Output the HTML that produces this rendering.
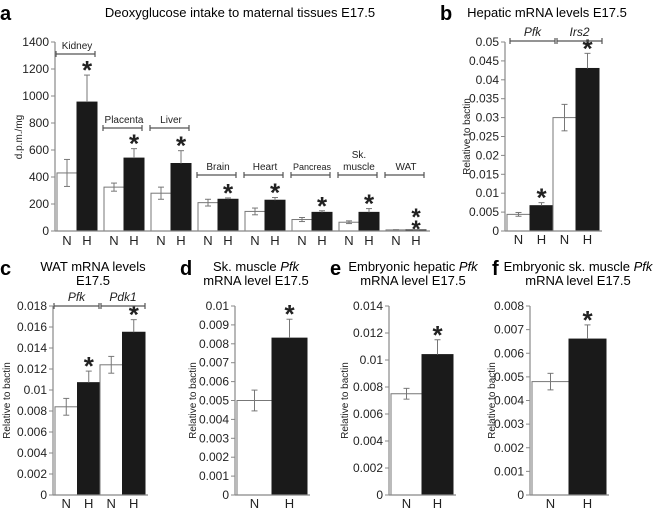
<!DOCTYPE html>
<html><head><meta charset="utf-8"><style>
html,body{margin:0;padding:0;background:#fff}
svg{display:block;font-family:"Liberation Sans",Arial,sans-serif}
</style></head><body>
<svg id="fig" width="660" height="509" viewBox="0 0 660 509">
<text x="0" y="20" font-size="20" font-weight="bold">a</text>
<text x="240" y="17" font-size="13" text-anchor="middle">Deoxyglucose intake to maternal tissues E17.5</text>
<text x="440" y="20" font-size="20" font-weight="bold">b</text>
<text x="547" y="17" font-size="13" text-anchor="middle">Hepatic mRNA levels E17.5</text>
<text x="0" y="275" font-size="20" font-weight="bold">c</text>
<text x="93" y="271" font-size="13" text-anchor="middle">WAT mRNA levels</text>
<text x="93" y="285" font-size="13" text-anchor="middle">E17.5</text>
<text x="180" y="275" font-size="20" font-weight="bold">d</text>
<text x="256" y="271" font-size="13" text-anchor="middle">Sk. muscle <tspan font-style="italic">Pfk</tspan></text>
<text x="256" y="285" font-size="13" text-anchor="middle">mRNA level E17.5</text>
<text x="330" y="275" font-size="20" font-weight="bold">e</text>
<text x="413" y="271" font-size="13" text-anchor="middle">Embryonic hepatic <tspan font-style="italic">Pfk</tspan></text>
<text x="413" y="285" font-size="13" text-anchor="middle">mRNA level E17.5</text>
<text x="492" y="275" font-size="20" font-weight="bold">f</text>
<text x="578" y="271" font-size="13" text-anchor="middle">Embryonic sk. muscle <tspan font-style="italic">Pfk</tspan></text>
<text x="578" y="285" font-size="13" text-anchor="middle">mRNA level E17.5</text>
</svg>
<script>
// Panel a data
const aTissues = ["Kidney","Placenta","Liver","Brain","Heart","Pancreas","Sk. muscle","WAT"];
const aNormal = [430,325,280,210,145,85,65,8];
const aNormalErr = [100,30,45,25,25,15,10,2];
const aHypoxia = [955,540,500,235,228,138,138,8];
const aHypoxiaErr = [200,70,95,10,20,12,28,2];
const aTicks = [0,200,400,600,800,1000,1200,1400];
// Panel b
const bValues = [0.0044,0.0067,0.030,0.043];
const bErr = [0.0005,0.0008,0.0035,0.004];
const bTicks = [0,0.005,0.01,0.015,0.02,0.025,0.03,0.035,0.04,0.045,0.05];
const bTickLabels = ["0","0.005","0.01","0.015","0.02","0.025","0.03","0.035","0.04","0.045","0.05"];
// Panel c
const cValues = [0.0084,0.0107,0.0124,0.0155];
const cErr = [0.0008,0.0011,0.0008,0.0012];
const cTicks = [0,0.002,0.004,0.006,0.008,0.01,0.012,0.014,0.016,0.018];
const cTickLabels = ["0","0.002","0.004","0.006","0.008","0.01","0.012","0.014","0.016","0.018"];
// Panel d
const dValues = [0.005,0.0083];
const dErr = [0.00055,0.001];
const dTicks = [0,0.001,0.002,0.003,0.004,0.005,0.006,0.007,0.008,0.009,0.01];
const dTickLabels = ["0","0.001","0.002","0.003","0.004","0.005","0.006","0.007","0.008","0.009","0.01"];
// Panel e
const eValues = [0.0075,0.0104];
const eErr = [0.0004,0.0011];
const eTicks = [0,0.002,0.004,0.006,0.008,0.01,0.012,0.014];
const eTickLabels = ["0","0.002","0.004","0.006","0.008","0.01","0.012","0.014"];
// Panel f
const fValues = [0.0048,0.0066];
const fErr = [0.00035,0.0006];
const fTicks = [0,0.001,0.002,0.003,0.004,0.005,0.006,0.007,0.008];
const fTickLabels = ["0","0.001","0.002","0.003","0.004","0.005","0.006","0.007","0.008"];
const groupLabels = ["N","H","N","H"];

const svg = document.getElementById('fig');
const NS = 'http://www.w3.org/2000/svg';
function mk(tag, attrs, name){
  const e = document.createElementNS(NS, tag);
  for (const k in attrs) e.setAttribute(k, attrs[k]);
  
  
  svg.appendChild(e);
  return e;
}
function txt(x,y,s,size,anchor,name,extra){
  const t = mk('text', Object.assign({x:x,y:y,'font-size':size,'text-anchor':anchor||'middle',fill:'#222'}, extra||{}), name);
  t.textContent = s;
  return t;
}
function star(cx, ye){
  txt(cx, ye+4, '*', 26, 'middle', 'significance-star', {'font-weight':'bold'});
}
function panel(p){
  const yS = v => p.y0 - (v / p.max) * (p.y0 - p.yTop);
  p.ticks.forEach((t,i)=>{
    const y = yS(t);
    mk('line',{x1:p.ax-4,x2:p.ax,y1:y,y2:y,stroke:'#888','stroke-width':1},'y-tick');
    txt(p.ax-6,y+4,p.labels[i],12,'end','y-tick-label');
  });
  mk('line',{x1:p.ax,x2:p.ax,y1:p.yTop,y2:p.y0,stroke:'#888','stroke-width':1.2},'y-axis');
  const lab = txt(0,0,p.ylab,10,'middle','y-axis-title');
  lab.setAttribute('transform','translate('+p.ylabX+','+((p.yTop+p.y0)/2)+') rotate(-90)');
  p.vals.forEach((v,i)=>{
    const x = p.bx + i*p.bw;
    const filled = i%2===1;
    const top = yS(v);
    mk('rect',{x:x,y:top,width:p.bw,height:p.y0-top,fill:filled?'#1a1a1a':'#fff',stroke:filled?'#1a1a1a':'#777','stroke-width':1},filled?'bar-h':'bar-n');
    const cx = x + p.bw/2, ye = yS(v + p.err[i]);
    mk('line',{x1:cx,x2:cx,y1:top,y2:ye,stroke:'#777','stroke-width':1},'error-bar');
    mk('line',{x1:cx-3,x2:cx+3,y1:ye,y2:ye,stroke:'#777','stroke-width':1},'error-cap');
    if(!filled){
      const yl = yS(v - p.err[i]);
      mk('line',{x1:cx,x2:cx,y1:top,y2:yl,stroke:'#777','stroke-width':1},'error-bar');
      mk('line',{x1:cx-3,x2:cx+3,y1:yl,y2:yl,stroke:'#777','stroke-width':1},'error-cap');
    }
    if(filled && p.star[Math.floor(i/2)]) star(cx, ye);
    txt(cx,p.y0+13,groupLabels[i],13,'middle','x-tick-label');
  });
  mk('line',{x1:p.ax,x2:p.bx+p.vals.length*p.bw+3,y1:p.y0,y2:p.y0,stroke:'#888','stroke-width':1.2},'x-axis');
}
function bracket(x1,x2,y,label,name,italic){
  mk('line',{x1:x1,x2:x2,y1:y,y2:y,stroke:'#555','stroke-width':1.2},name+'-bracket');
  mk('line',{x1:x1,x2:x1,y1:y-3,y2:y+3,stroke:'#555','stroke-width':1.2},name+'-bracket-end');
  mk('line',{x1:x2,x2:x2,y1:y-3,y2:y+3,stroke:'#555','stroke-width':1.2},name+'-bracket-end');
  if(label) txt((x1+x2)/2,y-5,label,italic?12:10,'middle',name+'-label',italic?{'font-style':'italic'}:{});
}

// Panel a
(function(){
  const ax=55, y0=231, yTop=42, max=1400, bw=20, gap=47, bx=57;
  const yS = v => y0 - v/max*(y0-yTop);
  aTicks.forEach(t=>{
    const y=yS(t);
    mk('line',{x1:ax-4,x2:ax,y1:y,y2:y,stroke:'#888'},'y-tick');
    txt(ax-6,y+4,String(t),12,'end','y-tick-label');
  });
  mk('line',{x1:ax,x2:ax,y1:yTop,y2:y0,stroke:'#888','stroke-width':1.2},'y-axis');
  const lab = txt(0,0,'d.p.m./mg',10,'middle','y-axis-title');
  lab.setAttribute('transform','translate(22,137) rotate(-90)');
  aTissues.forEach((tis,g)=>{
    const xN = bx + g*gap, xH = xN + bw;
    [[aNormal[g],aNormalErr[g],xN,false],[aHypoxia[g],aHypoxiaErr[g],xH,true]].forEach(([v,e,x,f])=>{
      const top=yS(v);
      mk('rect',{x:x,y:top,width:bw,height:y0-top,fill:f?'#1a1a1a':'#fff',stroke:f?'#1a1a1a':'#777'},f?'bar-h':'bar-n');
      const cx=x+bw/2, ye=yS(v+e);
      mk('line',{x1:cx,x2:cx,y1:top,y2:ye,stroke:'#777'},'error-bar');
      mk('line',{x1:cx-3,x2:cx+3,y1:ye,y2:ye,stroke:'#777'},'error-cap');
      if(!f){const yl=yS(v-e);
        mk('line',{x1:cx,x2:cx,y1:top,y2:yl,stroke:'#777'},'error-bar');
        mk('line',{x1:cx-3,x2:cx+3,y1:yl,y2:yl,stroke:'#777'},'error-cap');}
      txt(cx,y0+14,f?'H':'N',13,'middle','x-tick-label');
    });
    if(g<7){ star(xH+bw/2, yS(aHypoxia[g]+aHypoxiaErr[g])); }
    else { txt(xH+bw/2,y0-6,'*',24,'middle','significance-star',{'font-weight':'bold'}); txt(xH+bw/2,y0+6,'*',24,'middle','significance-star',{'font-weight':'bold'}); }
    const by = g===0?54:(g<3?128:175);
    mk('line',{x1:xN-1,x2:xH+bw-2,y1:by,y2:by,stroke:'#555','stroke-width':1.2},'tissue-bracket');
    mk('line',{x1:xN-1,x2:xN-1,y1:by-3,y2:by+3,stroke:'#555','stroke-width':1.2},'tissue-bracket-end');
    mk('line',{x1:xH+bw-2,x2:xH+bw-2,y1:by-3,y2:by+3,stroke:'#555','stroke-width':1.2},'tissue-bracket-end');
    if(tis==='Sk. muscle'){ txt(xN+bw,by-17,'Sk.',10,'middle','tissue-label'); txt(xN+bw,by-5,'muscle',10,'middle','tissue-label'); }
    else txt(xN+bw,by-5,tis,tis==='Pancreas'?9:10,'middle','tissue-label');
  });
  mk('line',{x1:ax,x2:430,y1:y0,y2:y0,stroke:'#888','stroke-width':1.2},'x-axis');
})();

panel({ax:505,y0:231,yTop:42,max:0.05,ticks:bTicks,labels:bTickLabels,ylab:'Relative to bactin',ylabX:470,vals:bValues,err:bErr,bx:507,bw:23,star:[true,true]});
bracket(510,555,41,'Pfk','pfk',true); bracket(557,602,41,'Irs2','irs2',true);
panel({ax:53,y0:495,yTop:306,max:0.018,ticks:cTicks,labels:cTickLabels,ylab:'Relative to bactin',ylabX:10,vals:cValues,err:cErr,bx:55,bw:22.5,star:[true,true]});
bracket(54,99,306,'Pfk','pfk-c',true); bracket(101,145,306,'Pdk1','pdk1',true);
panel({ax:235,y0:495,yTop:306,max:0.01,ticks:dTicks,labels:dTickLabels,ylab:'Relative to bactin',ylabX:196,vals:dValues,err:dErr,bx:237,bw:35,star:[true]});
panel({ax:389,y0:495,yTop:306,max:0.014,ticks:eTicks,labels:eTickLabels,ylab:'Relative to bactin',ylabX:348,vals:eValues,err:eErr,bx:391,bw:31,star:[true]});
panel({ax:530,y0:495,yTop:306,max:0.008,ticks:fTicks,labels:fTickLabels,ylab:'Relative to bactin',ylabX:495,vals:fValues,err:fErr,bx:532,bw:37,star:[true]});
</script>
</body></html>
